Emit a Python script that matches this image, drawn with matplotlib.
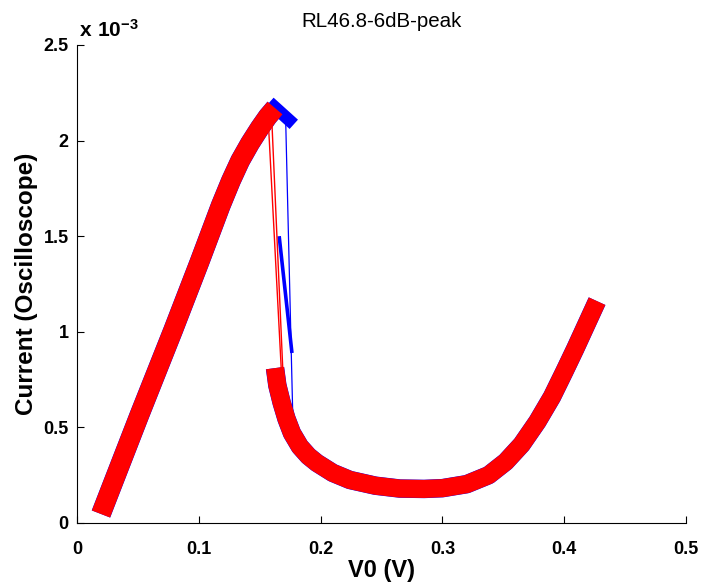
import matplotlib
matplotlib.use("Agg")
import matplotlib.pyplot as plt
from matplotlib.ticker import FuncFormatter, FixedLocator

plt.rcParams['font.family'] = ['Liberation Sans', 'DejaVu Sans']
plt.rcParams['mathtext.fontset'] = 'custom'
plt.rcParams['mathtext.rm'] = 'Liberation Sans:bold'
plt.rcParams['mathtext.bf'] = 'Liberation Sans:bold'

# ---- data (V0 in volts, current in amperes) ----
up_v = [0.0197, 0.0513, 0.0790, 0.1006, 0.1180, 0.1264, 0.1340, 0.1420,
        0.1500, 0.1566, 0.1626]
up_i = [0.047e-3, 0.565e-3, 1.009e-3, 1.365e-3, 1.660e-3, 1.790e-3, 1.895e-3,
        1.985e-3, 2.065e-3, 2.125e-3, 2.170e-3]

low_v = [0.1626, 0.1645, 0.1680, 0.1720, 0.1765, 0.1830, 0.1900, 0.1970,
         0.2100, 0.2240, 0.2450, 0.2650, 0.2850, 0.3000, 0.3200, 0.3380,
         0.3520, 0.3650, 0.3780, 0.3900, 0.4000, 0.4090, 0.4180, 0.4270]
low_i = [0.810e-3, 0.720e-3, 0.630e-3, 0.545e-3, 0.470e-3, 0.400e-3, 0.350e-3, 0.314e-3,
         0.262e-3, 0.225e-3, 0.195e-3, 0.180e-3, 0.178e-3, 0.182e-3, 0.203e-3, 0.250e-3,
         0.320e-3, 0.410e-3, 0.530e-3, 0.660e-3, 0.790e-3, 0.910e-3, 1.035e-3, 1.160e-3]

drop1_v = [0.157, 0.168]
drop1_i = [2.11e-3, 0.77e-3]
drop2_v = [0.160, 0.169]
drop2_i = [2.10e-3, 0.80e-3]

blue_tail_v = [0.158, 0.178]
blue_tail_i = [2.20e-3, 2.085e-3]
blue_drop_v = [0.1713, 0.1773]
blue_drop_i = [2.118e-3, 0.528e-3]
blue_seg_v = [0.166, 0.1765]
blue_seg_i = [1.50e-3, 0.889e-3]

x_ticks = [0, 0.1, 0.2, 0.3, 0.4, 0.5]
y_ticks = [0, 0.5e-3, 1.0e-3, 1.5e-3, 2.0e-3, 2.5e-3]

fig = plt.figure(figsize=(7.01, 5.84), dpi=100)
ax = fig.add_axes([0.1098, 0.1045, 0.8688, 0.8185])

# blue trace (underneath)
ax.plot(up_v, up_i, color='#0000ff', lw=14.3, solid_capstyle='butt', solid_joinstyle='round')
ax.plot(low_v, low_i, color='#0000ff', lw=13.3, solid_capstyle='butt', solid_joinstyle='round')
ax.plot(blue_tail_v, blue_tail_i, color='#0000ff', lw=9, solid_capstyle='butt')
ax.plot(blue_drop_v, blue_drop_i, color='#0000ff', lw=0.9)
ax.plot(blue_seg_v, blue_seg_i, color='#0000ff', lw=2.6, solid_capstyle='butt')

# red trace (on top)
ax.plot(drop1_v, drop1_i, color='#ff0000', lw=1.0)
ax.plot(drop2_v, drop2_i, color='#ff0000', lw=1.0)
ax.plot(up_v, up_i, color='#ff0000', lw=14, solid_capstyle='butt', solid_joinstyle='round')
ax.plot(low_v, low_i, color='#ff0000', lw=13, solid_capstyle='butt', solid_joinstyle='round')

ax.set_xlim(0, 0.5)
ax.set_ylim(0, 2.5e-3)
ax.xaxis.set_major_locator(FixedLocator(x_ticks))
ax.yaxis.set_major_locator(FixedLocator(y_ticks))
ax.xaxis.set_major_formatter(FuncFormatter(lambda v, p: f"{v:g}"))
ax.yaxis.set_major_formatter(FuncFormatter(lambda v, p: f"{v*1e3:g}"))

for s in ['top', 'right']:
    ax.spines[s].set_visible(False)
for s in ['left', 'bottom']:
    ax.spines[s].set_linewidth(0.8)
ax.tick_params(direction='in', length=5, width=0.8, labelsize=13)
ax.tick_params(axis='y', pad=6)
ax.tick_params(axis='x', pad=13)
for lab in ax.get_xticklabels() + ax.get_yticklabels():
    lab.set_fontweight('bold')

ax.set_xlabel('V0 (V)', fontsize=17, fontweight='bold', labelpad=1)
ax.set_ylabel('Current (Oscilloscope)', fontsize=17.5, fontweight='bold', labelpad=4)
ax.set_title('RL46.8-6dB-peak', fontsize=14.8, pad=13)

fig.text(79/701, 1 - 37/584, r'$\mathbf{x\ 10^{-3}}$', fontsize=15, ha='left', va='baseline')

fig.savefig('out.png', dpi=100)
